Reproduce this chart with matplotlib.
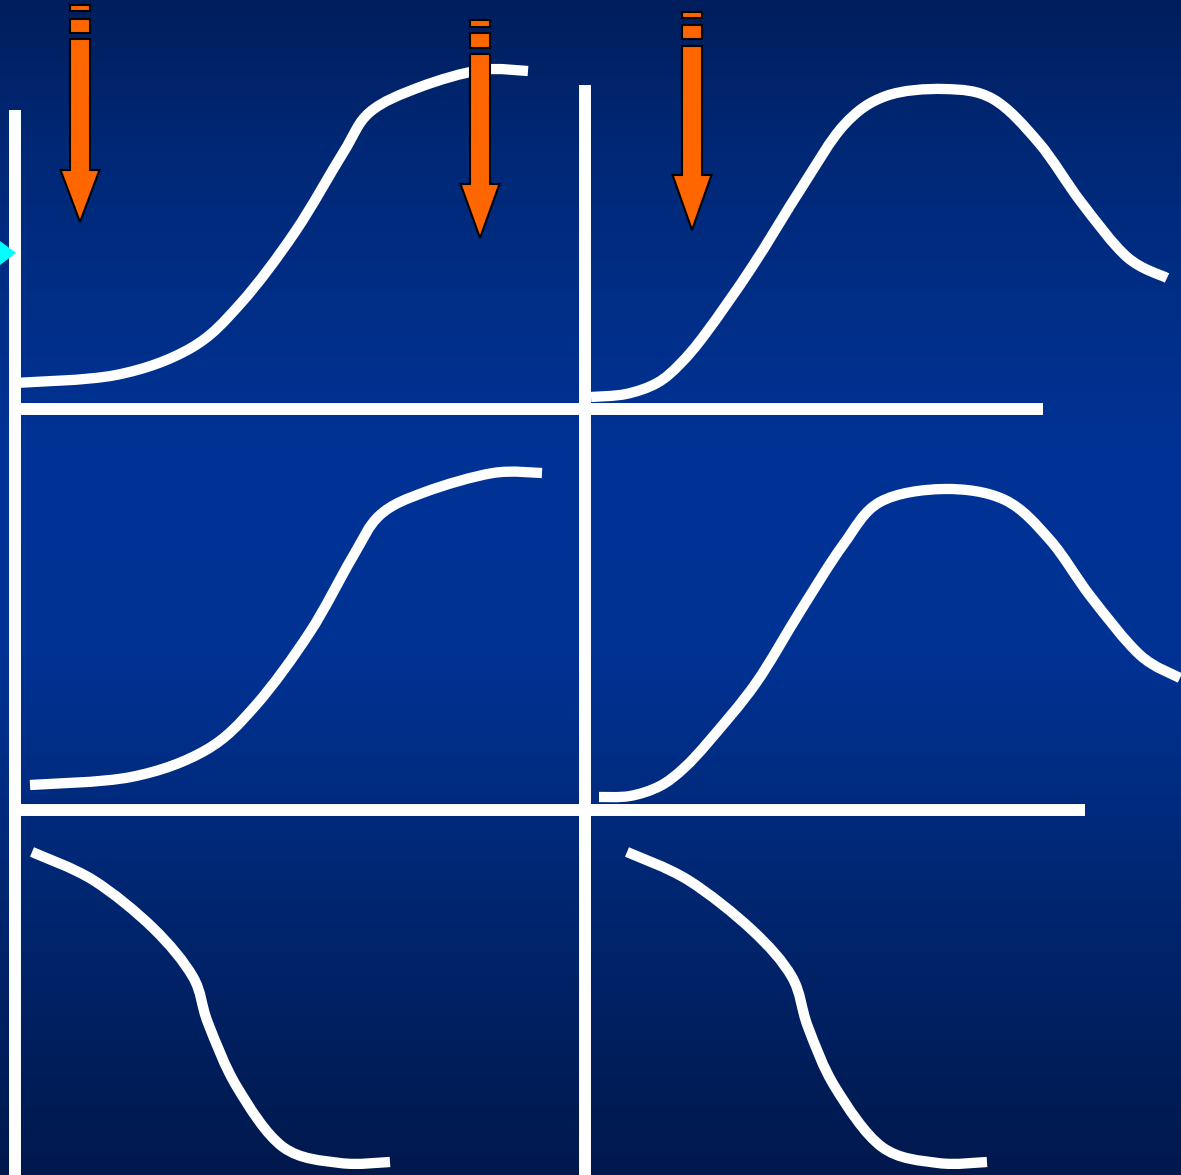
import matplotlib
matplotlib.use('Agg')
import matplotlib.pyplot as plt
import numpy as np
from matplotlib.patches import Polygon, Rectangle, PathPatch
from matplotlib.path import Path

# canvas in pixel units (y grows downward like the slide)
W, H = 1181, 1175

# white curves as (x, y) pixel points
rise_top_x = [15, 116, 191, 241, 295, 343, 370, 420, 481, 528]
rise_top_y = [383, 375, 348, 303, 232, 153, 112, 87, 70, 71]

rise_mid_x = [30, 131, 206, 256, 310, 352, 380, 425, 493, 542]
rise_mid_y = [785, 777, 750, 705, 632, 558, 515, 492, 473, 473]

hump_top_x = [591, 626, 657, 680, 706, 752, 802, 844, 886, 944, 993, 1039, 1081, 1127, 1167]
hump_top_y = [397, 394, 383, 364, 333, 267, 187, 125, 96, 89, 99, 143, 202, 257, 278]

hump_mid_x = [599, 630, 660, 684, 710, 756, 801, 843, 880, 944, 1005, 1050, 1091, 1140, 1180]
hump_mid_y = [797, 796, 786, 768, 740, 683, 610, 545, 502, 489, 500, 540, 597, 655, 678]

fall_left_x = [32, 93, 153, 193, 208, 237, 283, 340, 390]
fall_left_y = [852, 880, 928, 977, 1023, 1087, 1147, 1163, 1162]

fall_right_x = [627, 688, 752, 792, 808, 835, 882, 938, 987]
fall_right_y = [852, 880, 930, 977, 1027, 1087, 1147, 1163, 1162]

# axis lines: (x0, y0, x1, y1)
axis_lines = [
    (15, 110, 15, 1175),
    (585, 85, 585, 1175),
    (15, 409, 1043, 409),
    (15, 810, 1085, 810),
]

# orange arrows: centre x, dash1 (top, bottom), dash2 (top, bottom), shaft top, head top, tip
arrow_x = [80, 480, 692]
dash1 = [(5, 11), (20, 27), (12, 18)]
dash2 = [(19, 33), (33, 48), (25, 39)]
shaft_top = [39, 54, 46]
head_top = [170, 184, 175]
tip_y = [222, 238, 230]

shaft_w = 20
head_w = 39


def smooth_path(xs, ys):
    # cubic bezier through the read points (catmull-rom style handles)
    p = np.column_stack([xs, ys]).astype(float)
    pp = np.vstack([p[0], p, p[-1]])
    verts = [p[0]]
    codes = [Path.MOVETO]
    for i in range(1, len(pp) - 2):
        c1 = pp[i] + (pp[i + 1] - pp[i - 1]) / 6.0
        c2 = pp[i + 1] - (pp[i + 2] - pp[i]) / 6.0
        verts += [c1, c2, pp[i + 1]]
        codes += [Path.CURVE4] * 3
    return Path(verts, codes)


fig = plt.figure(figsize=(W / 100, H / 100), dpi=100)
ax = fig.add_axes([0, 0, 1, 1])
ax.set_xlim(0, W)
ax.set_ylim(H, 0)
ax.axis('off')

# background gradient, dark navy -> royal blue -> dark navy
stops_y = [0, 150, 450, 650, 900, 1175]
stops_c = np.array([
    [0, 30, 92],
    [0, 40, 118],
    [0, 51, 150],
    [0, 50, 148],
    [0, 38, 112],
    [0, 24, 76],
]) / 255.0
yy = np.arange(H)
grad = np.stack([np.interp(yy, stops_y, stops_c[:, i]) for i in range(3)], axis=1)
ax.imshow(grad[:, None, :], extent=[0, W, H, 0], aspect='auto', zorder=0)

for x0, y0, x1, y1 in axis_lines:
    ax.plot([x0, x1], [y0, y1], color='white', lw=8.6, solid_capstyle='butt', zorder=2)

for xs, ys in [(rise_top_x, rise_top_y), (rise_mid_x, rise_mid_y),
               (hump_top_x, hump_top_y), (hump_mid_x, hump_mid_y),
               (fall_left_x, fall_left_y), (fall_right_x, fall_right_y)]:
    ax.add_patch(PathPatch(smooth_path(xs, ys), facecolor='none', edgecolor='white',
                           lw=7.4, capstyle='butt', joinstyle='round', zorder=3))

# cyan pointer at left edge
ax.add_patch(Polygon([(0, 241), (16, 253), (0, 265)], closed=True,
                     facecolor='#00ffff', edgecolor='none', zorder=4))

orange = '#ff6600'
for i, cx in enumerate(arrow_x):
    for top, bot in (dash1[i], dash2[i]):
        ax.add_patch(Rectangle((cx - shaft_w / 2, top), shaft_w, bot - top,
                               facecolor=orange, edgecolor='black', lw=1.5, zorder=5))
    pts = [
        (cx - shaft_w / 2, shaft_top[i]),
        (cx + shaft_w / 2, shaft_top[i]),
        (cx + shaft_w / 2, head_top[i]),
        (cx + head_w / 2, head_top[i]),
        (cx, tip_y[i]),
        (cx - head_w / 2, head_top[i]),
        (cx - shaft_w / 2, head_top[i]),
    ]
    ax.add_patch(Polygon(pts, closed=True, facecolor=orange, edgecolor='black',
                         lw=1.5, joinstyle='miter', zorder=5))

fig.savefig('out.png', dpi=100)
